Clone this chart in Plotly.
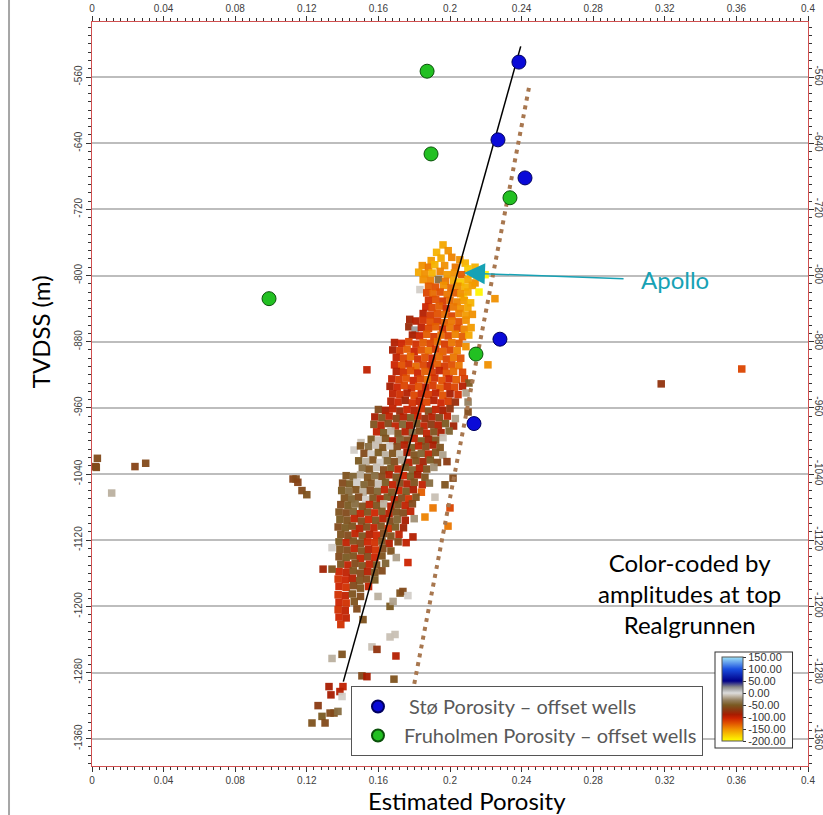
import plotly.graph_objects as go

# ---------------- data ----------------
sto_por = [0.2385, 0.2268, 0.2419, 0.2279, 0.2134]
sto_depth = [-542, -636, -682, -877, -979]
fru_por = [0.1872, 0.1894, 0.2335, 0.0989, 0.2145]
fru_depth = [-553, -653, -706, -828, -895]

trend_por = [0.2395, 0.1404]
trend_depth = [-523, -1291]
limit_por = [0.2441, 0.1721]
limit_depth = [-573, -1383]

x_ticks = [0, 0.04, 0.08, 0.12, 0.16, 0.2, 0.24, 0.28, 0.32, 0.36, 0.4]
x_labels = ["0", "0.04", "0.08", "0.12", "0.16", "0.2", "0.24", "0.28", "0.32", "0.36", "0.4"]
y_ticks = [-560, -640, -720, -800, -880, -960, -1040, -1120, -1200, -1280, -1360]
y_labels = ["-560", "-640", "-720", "-800", "-880", "-960", "-1040", "-1120", "-1200", "-1280", "-1360"]
cbar_ticks = [150, 100, 50, 0, -50, -100, -150, -200]
cbar_labels = ["150.00", "100.00", "50.00", "0.00", "-50.00", "-100.00", "-150.00", "-200.00"]

# seismic-derived porosity cloud: (porosity, TVDSS, amplitude)
cloud_cap = [
    (0.1961, -763, -160), (0.1990, -770, -150), (0.1925, -772, -165),
    (0.2010, -778, -145), (0.1950, -779, -160), (0.1895, -782, -155), (0.2055, -781, -150), (0.2085, -785, -165),
    (0.1845, -788, -150), (0.1880, -790, -140), (0.1915, -787, -165), (0.1970, -788, -150), (0.2030, -790, -140),
    (0.2100, -792, -175), (0.2140, -790, -165),
    (0.1825, -796, -160), (0.1860, -798, -150), (0.1900, -797, -165), (0.1945, -795, -145), (0.1985, -799, -155),
    (0.2025, -797, -150), (0.2065, -799, -130), (0.2115, -798, -170), (0.2150, -800, -180), (0.2196, -799, -195),
    (0.1850, -805, -150), (0.1890, -806, -145), (0.1935, -805, -40), (0.1975, -807, -140), (0.2020, -806, -160),
    (0.2060, -808, -175), (0.2100, -805, -160), (0.2140, -809, -150),
    (0.1880, -813, -130), (0.1920, -814, -125), (0.1965, -812, -150), (0.2005, -815, -135), (0.2045, -813, -150),
    (0.2085, -814, -165), (0.2125, -812, -155), (0.2162, -820, -195), (0.1832, -817, -5), (0.2073, -826, -195),
    (0.2251, -828, -150),
]
cloud_upper = [
    (0.1870, -821, -120), (0.1905, -822, -135), (0.1945, -820, -125), (0.1985, -823, -140), (0.2025, -821, -130),
    (0.2060, -822, -150), (0.2100, -820, -160),
    (0.1880, -830, -110), (0.1920, -829, -125), (0.1960, -831, -115), (0.2000, -830, -135), (0.2040, -832, -145),
    (0.2080, -830, -155), (0.2115, -833, -165),
    (0.1865, -838, -105), (0.1900, -839, -120), (0.1940, -837, -130), (0.1980, -840, -110), (0.2020, -838, -140),
    (0.2060, -840, -150), (0.2100, -839, -160),
    (0.1850, -846, -95), (0.1890, -848, -115), (0.1930, -846, -125), (0.1970, -847, -135), (0.2010, -849, -120),
    (0.2050, -846, -145), (0.2090, -848, -155), (0.2125, -847, -150),
    (0.1775, -853, -85), (0.1810, -855, -95), (0.1850, -854, -110), (0.1890, -856, -125), (0.1930, -855, -115),
    (0.1970, -857, -130), (0.2010, -855, -140), (0.2050, -856, -125), (0.2090, -854, -150),
    (0.1770, -862, -80), (0.1805, -866, 20), (0.1840, -863, -100), (0.1880, -864, -120), (0.1920, -862, -130),
    (0.1960, -865, -110), (0.2000, -863, -140), (0.2040, -864, -120), (0.2080, -865, -145), (0.2118, -863, -155),
    (0.1790, -872, -90), (0.1830, -873, -105), (0.1870, -871, -130), (0.1910, -874, -115), (0.1950, -872, -135),
    (0.1990, -873, -120), (0.2030, -871, -145), (0.2070, -874, -130), (0.2105, -872, -160),
]
cloud_middle = [
    (0.1690, -881, -95), (0.1730, -882, -105), (0.1770, -880, -120), (0.1810, -883, -110), (0.1850, -881, -130),
    (0.1890, -882, -120), (0.1930, -880, -135), (0.1970, -883, -115), (0.2010, -881, -140), (0.2050, -882, -130),
    (0.2089, -886, -150),
    (0.1680, -890, -90), (0.1720, -891, -115), (0.1760, -889, -130), (0.1800, -892, -105), (0.1840, -890, -125),
    (0.1880, -891, -140), (0.1920, -889, -115), (0.1960, -892, -130), (0.2000, -890, -120), (0.2040, -891, -145),
    (0.1700, -899, -100), (0.1740, -900, -120), (0.1780, -898, -135), (0.1820, -901, -110), (0.1860, -899, -125),
    (0.1900, -900, -105), (0.1940, -898, -135), (0.1980, -901, -120), (0.2020, -899, -140), (0.2060, -900, -125),
    (0.1690, -908, -105), (0.1730, -909, -125), (0.1770, -907, -110), (0.1810, -910, -135), (0.1850, -908, -120),
    (0.1890, -909, -100), (0.1930, -907, -130), (0.1970, -910, -115), (0.2010, -908, -125), (0.2050, -909, -140),
    (0.2212, -908, -150),
    (0.1700, -916, -95), (0.1740, -917, -110), (0.1780, -915, -125), (0.1820, -918, -105), (0.1860, -916, -130),
    (0.1900, -917, -115), (0.1940, -915, -100), (0.1980, -918, -125), (0.2020, -916, -135), (0.2070, -917, -120),
    (0.1536, -914, -100),
    (0.1675, -925, -100), (0.1715, -926, -115), (0.1755, -924, -125), (0.1795, -927, -105), (0.1835, -925, -120),
    (0.1875, -926, -135), (0.1915, -924, -110), (0.1955, -927, -125), (0.1995, -925, -105), (0.2035, -926, -130),
    (0.2080, -925, -115), (0.2106, -930, -50),
    (0.1665, -934, -90), (0.1705, -935, -105), (0.1745, -933, -120), (0.1785, -936, -110), (0.1825, -934, -125),
    (0.1865, -935, -100), (0.1905, -933, -115), (0.1945, -936, -130), (0.1985, -934, -110), (0.2025, -935, -120),
    (0.2070, -934, -95),
    (0.1680, -943, -100), (0.1720, -944, -110), (0.1760, -942, -95), (0.1800, -945, -120), (0.1840, -943, -105),
    (0.1880, -944, -115), (0.1920, -942, -100), (0.1960, -945, -125), (0.2000, -943, -90), (0.2045, -944, -110),
    (0.2090, -942, -20), (0.2101, -953, -30),
    (0.1670, -952, -95), (0.1710, -953, -105), (0.1750, -951, -85), (0.1790, -954, -110), (0.1830, -952, -100),
    (0.1870, -953, -120), (0.1910, -951, -95), (0.1950, -954, -105), (0.1990, -952, -115), (0.2030, -953, -80),
]
cloud_lower = [
    (0.1600, -962, -60), (0.1640, -963, -90), (0.1680, -961, -100), (0.1720, -964, -80), (0.1760, -962, -105),
    (0.1800, -963, -95), (0.1840, -961, -110), (0.1880, -964, -60), (0.1920, -962, -100), (0.1960, -963, -90),
    (0.2000, -961, -75), (0.2101, -965, -60),
    (0.1580, -971, -90), (0.1620, -972, -55), (0.1660, -970, -100), (0.1700, -973, -65), (0.1740, -971, -95),
    (0.1780, -972, -50), (0.1820, -970, -105), (0.1860, -973, -80), (0.1900, -971, -95), (0.1940, -972, -60),
    (0.1985, -970, -100), (0.2030, -973, -20),
    (0.1575, -980, -55), (0.1615, -981, -95), (0.1655, -979, -60), (0.1695, -982, -100), (0.1735, -980, -45),
    (0.1775, -981, -90), (0.1815, -979, -55), (0.1855, -982, -100), (0.1895, -980, -70), (0.1935, -981, -95),
    (0.1975, -979, -50), (0.2020, -982, -85),
    (0.1590, -989, -100), (0.1630, -990, -50), (0.1670, -988, -15), (0.1710, -991, -55), (0.1750, -989, -95),
    (0.1790, -990, -40), (0.1830, -988, -60), (0.1870, -991, -100), (0.1910, -989, -55), (0.1950, -990, -90),
    (0.1995, -988, -45), (0.1961, -996, -10),
    (0.1560, -998, -50), (0.1600, -999, -10), (0.1640, -997, -55), (0.1680, -1000, -90), (0.1720, -998, -45),
    (0.1760, -999, -60), (0.1800, -997, -100), (0.1840, -1000, -50), (0.1880, -998, -85), (0.1920, -999, -55),
    (0.1503, -1002, -10), (0.1464, -1011, -5),
    (0.1500, -1006, -55), (0.1545, -1007, -40), (0.1585, -1005, -10), (0.1625, -1008, -55), (0.1665, -1006, -5),
    (0.1705, -1007, -60), (0.1745, -1005, -95), (0.1785, -1008, -50), (0.1825, -1006, -100), (0.1865, -1007, -60),
    (0.1905, -1005, -90), (0.1945, -1008, -55),
    (0.1520, -1015, -60), (0.1560, -1016, -5), (0.1600, -1014, -50), (0.1640, -1017, -15), (0.1680, -1015, -55),
    (0.1720, -1016, -10), (0.1760, -1014, -90), (0.1800, -1017, -55), (0.1840, -1015, -45), (0.1880, -1016, -100),
    (0.1920, -1014, -55), (0.1960, -1017, -20),
    (0.1490, -1024, -50), (0.1530, -1025, -15), (0.1570, -1023, -55), (0.1610, -1026, -5), (0.1650, -1024, -45),
    (0.1690, -1025, -60), (0.1730, -1023, -20), (0.1770, -1026, -95), (0.1810, -1024, -55), (0.1850, -1025, -85),
    (0.1890, -1023, -50), (0.1930, -1026, -60), (0.1983, -1025, -70),
    (0.1510, -1033, -40), (0.1550, -1034, -55), (0.1590, -1032, -10), (0.1630, -1035, -60), (0.1670, -1033, -50),
    (0.1710, -1034, -100), (0.1750, -1032, -55), (0.1790, -1035, -45), (0.1830, -1033, -95), (0.1870, -1034, -55),
    (0.1910, -1032, -25),
]
cloud_base = [
    (0.1420, -1042, -55), (0.1460, -1043, -45), (0.1500, -1041, -15), (0.1540, -1044, -55), (0.1580, -1042, -40),
    (0.1620, -1043, -60), (0.1660, -1041, -95), (0.1700, -1044, -55), (0.1740, -1042, -105), (0.1780, -1043, -50),
    (0.1820, -1041, -90), (0.1860, -1044, -55), (0.2017, -1045, -60),
    (0.1400, -1051, -60), (0.1440, -1052, -50), (0.1480, -1050, -5), (0.1520, -1053, -45), (0.1560, -1051, -55),
    (0.1600, -1052, -10), (0.1640, -1050, -50), (0.1680, -1053, -100), (0.1720, -1051, -60), (0.1760, -1052, -95),
    (0.1800, -1050, -55), (0.1845, -1053, -100), (0.1885, -1051, -40), (0.1972, -1053, -55),
    (0.1395, -1060, -50), (0.1435, -1061, -40), (0.1475, -1059, -55), (0.1515, -1062, -15), (0.1555, -1060, -60),
    (0.1595, -1061, -45), (0.1635, -1059, -100), (0.1675, -1062, -55), (0.1715, -1060, -105), (0.1755, -1061, -50),
    (0.1795, -1059, -90), (0.1840, -1062, -130), (0.1916, -1068, -10),
    (0.1410, -1069, -55), (0.1450, -1070, -45), (0.1490, -1068, -60), (0.1530, -1071, -5), (0.1570, -1069, -55),
    (0.1610, -1070, -95), (0.1650, -1068, -50), (0.1690, -1071, -100), (0.1730, -1069, -60), (0.1770, -1070, -110),
    (0.1810, -1068, -55),
    (0.1390, -1077, -60), (0.1430, -1078, -50), (0.1470, -1076, -40), (0.1510, -1079, -55), (0.1550, -1077, -100),
    (0.1590, -1078, -55), (0.1630, -1076, -15), (0.1670, -1079, -95), (0.1710, -1077, -55), (0.1750, -1078, -100),
    (0.1790, -1076, -60), (0.1905, -1081, -140), (0.2000, -1081, -120),
    (0.1380, -1086, -55), (0.1420, -1087, -60), (0.1460, -1085, -45), (0.1500, -1088, -100), (0.1540, -1086, -55),
    (0.1580, -1087, -105), (0.1620, -1085, -50), (0.1660, -1088, -95), (0.1700, -1086, -55), (0.1740, -1087, -60),
    (0.1780, -1085, -100), (0.1860, -1092, -145),
    (0.1385, -1095, -50), (0.1425, -1096, -55), (0.1465, -1094, -100), (0.1505, -1097, -60), (0.1545, -1095, -105),
    (0.1585, -1096, -55), (0.1625, -1094, -95), (0.1665, -1097, -60), (0.1705, -1095, -45), (0.1750, -1096, -90),
    (0.1800, -1094, -25), (0.1989, -1103, -140),
    (0.1375, -1104, -60), (0.1415, -1105, -50), (0.1455, -1103, -55), (0.1495, -1106, -95), (0.1535, -1104, -60),
    (0.1575, -1105, -100), (0.1615, -1103, -55), (0.1655, -1106, -110), (0.1695, -1104, -50), (0.1740, -1105, -85),
    (0.1390, -1113, -55), (0.1430, -1114, -60), (0.1470, -1112, -100), (0.1510, -1115, -55), (0.1550, -1113, -95),
    (0.1590, -1114, -105), (0.1630, -1112, -60), (0.1670, -1115, -55), (0.1715, -1113, -100), (0.1793, -1116, -95),
    (0.1380, -1122, -50), (0.1420, -1123, -100), (0.1460, -1121, -55), (0.1500, -1124, -60), (0.1540, -1122, -105),
    (0.1580, -1123, -110), (0.1620, -1121, -55), (0.1660, -1124, -95), (0.1710, -1122, -60), (0.1755, -1123, -100),
    (0.1385, -1131, -55), (0.1425, -1132, -60), (0.1465, -1130, -100), (0.1505, -1133, -55), (0.1545, -1131, -95),
    (0.1585, -1132, -110), (0.1625, -1130, -60), (0.1670, -1133, -55),
    (0.1380, -1140, -60), (0.1420, -1141, -50), (0.1460, -1139, -55), (0.1500, -1142, -100), (0.1540, -1140, -60),
    (0.1580, -1141, -105), (0.1620, -1139, -55), (0.1700, -1141, -20), (0.1765, -1147, -105),
    (0.1390, -1149, -55), (0.1430, -1150, -100), (0.1470, -1148, -60), (0.1510, -1151, -55), (0.1550, -1149, -100),
    (0.1590, -1150, -55), (0.1640, -1148, -45),
    (0.1380, -1158, -105), (0.1420, -1159, -100), (0.1460, -1157, -55), (0.1500, -1160, -60), (0.1540, -1158, -95),
    (0.1580, -1159, -55), (0.1620, -1157, -60),
    (0.1375, -1167, -110), (0.1415, -1168, -105), (0.1455, -1166, -95), (0.1495, -1169, -55), (0.1535, -1167, -60),
    (0.1580, -1168, -50),
    (0.1380, -1176, -105), (0.1420, -1177, -110), (0.1460, -1175, -60), (0.1500, -1178, -55), (0.1545, -1176, -100),
    (0.1375, -1186, -110), (0.1415, -1187, -100), (0.1455, -1185, -55), (0.1500, -1188, -60),
    (0.1380, -1195, -105), (0.1420, -1196, -110), (0.1465, -1194, -55),
    (0.1375, -1204, -110), (0.1415, -1205, -100), (0.1480, -1203, -60),
    (0.1380, -1213, -105), (0.1420, -1214, -100),
    (0.1390, -1222, -110),
]
cloud_sparse = [
    (0.1721, -1184, -55), (0.1737, -1182, -60), (0.1765, -1187, -5), (0.1665, -1200, -50), (0.1682, -1194, -20),
    (0.1514, -1216, -55), (0.1598, -1188, -15),
    (0.1341, -1129, -5), (0.1291, -1155, -85), (0.1341, -1155, -55), (0.1173, -1060, -60), (0.1123, -1046, -65),
    (0.1341, -1263, -15), (0.1397, -1258, -55), (0.1564, -1249, -10), (0.1592, -1252, -75), (0.1665, -1237, -10),
    (0.1693, -1234, -10), (0.1698, -1260, -95), (0.1508, -1284, -60), (0.1536, -1285, -90), (0.1687, -1288, -55),
    (0.1324, -1297, -90), (0.1402, -1297, -100), (0.1385, -1303, -95), (0.1335, -1307, -90), (0.1397, -1309, -5),
    (0.1263, -1320, -70), (0.1352, -1329, -55), (0.1330, -1329, -60), (0.1374, -1327, -40), (0.1285, -1333, -50),
    (0.1229, -1341, -55), (0.1302, -1341, -60),
    (0.1140, -1046, -60), (0.1150, -1050, -65), (0.1200, -1065, -55),
    (0.0030, -1021, -60), (0.0020, -1031, -65), (0.0024, -1032, -60), (0.0240, -1031, -65), (0.0300, -1027, -60),
    (0.0110, -1063, -15),
    (0.3180, -931, -75), (0.3630, -913, -120),
]

cloud_all = cloud_cap + cloud_upper + cloud_middle + cloud_lower + cloud_base + cloud_sparse
cloud_por = [p[0] for p in cloud_all]
cloud_depth = [p[1] for p in cloud_all]
cloud_amp = [p[2] for p in cloud_all]

amp_scale = [
    [0.0, "#ffff00"], [0.0714, "#f8c800"], [0.1429, "#f09000"], [0.2143, "#e05000"],
    [0.2714, "#cc2400"], [0.3143, "#a81c00"], [0.3714, "#8a3a12"], [0.4286, "#7a5a22"],
    [0.4857, "#948060"], [0.5429, "#c8c0b4"], [0.5714, "#dcdcdc"], [0.6429, "#8a8a8a"],
    [0.7143, "#000088"], [0.8571, "#1a4fe0"], [1.0, "#a0e4f8"],
]

TICKFONT = dict(family="Liberation Sans, Arial", size=10, color="#404040")
AXLINE = "#d05050"
TEXTFONT = "Lato, Calibri, sans-serif"

fig = go.Figure()
fig.add_trace(go.Scatter(
    x=cloud_por, y=cloud_depth, mode="markers", showlegend=False, hoverinfo="skip",
    marker=dict(symbol="square", size=7.5, color=cloud_amp, cmin=-200, cmax=150,
                colorscale=amp_scale, line=dict(width=0), opacity=0.95,
                colorbar=dict(x=0.8715, xanchor="left", y=0.1532, yanchor="top",
                              lenmode="pixels", len=94, thicknessmode="pixels", thickness=21,
                              xpad=6, ypad=5, tickmode="array", tickvals=cbar_ticks,
                              ticktext=cbar_labels, ticks="outside", ticklen=3, tickcolor="#333",
                              tickfont=dict(family="Liberation Sans, Arial", size=11, color="#333"),
                              outlinecolor="#555", outlinewidth=1, bgcolor="white",
                              bordercolor="#333", borderwidth=1)),
))
fig.add_trace(go.Scatter(x=trend_por, y=trend_depth, mode="lines", showlegend=False,
                         line=dict(color="black", width=1.5)))
fig.add_trace(go.Scatter(x=limit_por, y=limit_depth, mode="lines", showlegend=False,
                         line=dict(color="#a8774f", width=4, dash="4px,5px")))
fig.add_trace(go.Scatter(x=sto_por, y=sto_depth, mode="markers", name="\u00a0Stø Porosity – offset wells",
                         marker=dict(size=14, color="#0a0ad8", line=dict(color="#000060", width=1))))
fig.add_trace(go.Scatter(x=fru_por, y=fru_depth, mode="markers", name="Fruholmen Porosity – offset wells",
                         marker=dict(size=14, color="#22c022", line=dict(color="#0a500a", width=1))))
fig.add_trace(go.Scatter(x=[], y=[], xaxis="x2", yaxis="y2", showlegend=False))

xcommon = dict(range=[0, 0.4], tickmode="array", tickvals=x_ticks, ticktext=x_labels,
               showline=True, linecolor=AXLINE, linewidth=1, ticks="outside", ticklen=5,
               tickcolor="#333", showgrid=False, zeroline=False, tickfont=TICKFONT, automargin=False,
               minor=dict(tickmode="linear", tick0=0, dtick=0.004, ticklen=3, tickcolor="#333",
                          ticks="outside", showgrid=False))
ycommon = dict(range=[-1393, -493.5], tickmode="array", tickvals=y_ticks, ticktext=y_labels,
               showline=True, linecolor=AXLINE, linewidth=1, ticks="outside", ticklen=5,
               tickcolor="#333", zeroline=False, tickfont=TICKFONT, automargin=False,
               minor=dict(tickmode="linear", tick0=-560, dtick=10, ticklen=3, tickcolor="#333",
                          ticks="outside", showgrid=False))

fig.update_layout(
    width=823, height=815, margin=dict(l=92, r=15, t=22, b=49, autoexpand=False),
    plot_bgcolor="white", paper_bgcolor="white",
    xaxis=dict(**xcommon, side="bottom", anchor="y"),
    xaxis2=dict(**xcommon, side="top", overlaying="x", anchor="y"),
    yaxis=dict(**ycommon, side="left", tickangle=-90, showgrid=True, gridcolor="#bdbdbd",
               gridwidth=1.5, anchor="x"),
    yaxis2=dict(**ycommon, side="right", tickangle=90, showgrid=False, overlaying="y", anchor="x",
                ticklabelstandoff=-3),
    legend=dict(x=0.3617, y=0.1075, xanchor="left", yanchor="top", bgcolor="white",
                bordercolor="#555", borderwidth=1, itemsizing="constant", tracegroupgap=0,
                itemwidth=42, font=dict(family=TEXTFONT, size=20, color="#595959")),
    annotations=[
        dict(x=0.2078, y=-797, ax=0.2978, ay=-804, xref="x", yref="y", axref="x", ayref="y",
             text="", showarrow=True, arrowhead=2, arrowsize=2.8, arrowwidth=1.5,
             arrowcolor="#17a2b5", standoff=0),
        dict(x=0.3257, y=-805, xref="x", yref="y", text="Apollo", showarrow=False,
             xanchor="center", yanchor="middle",
             font=dict(family=TEXTFONT, size=24, color="#17a2b5")),
        dict(x=0.835, y=0.2325, xref="paper", yref="paper", showarrow=False, align="center",
             xanchor="center", yanchor="middle",
             text="Color-coded by<br>amplitudes at top<br>Realgrunnen",
             font=dict(family=TEXTFONT, size=24, color="black")),
        dict(x=-0.0726, y=0.583, xref="paper", yref="paper", showarrow=False, textangle=-90,
             xanchor="center", yanchor="middle",
             text="TVDSS (m)", font=dict(family=TEXTFONT, size=24, color="black")),
        dict(x=0.5237, y=-0.047, xref="paper", yref="paper", showarrow=False,
             xanchor="center", yanchor="middle",
             text="Estimated Porosity", font=dict(family=TEXTFONT, size=24, color="black")),
    ],
    shapes=[dict(type="line", xref="paper", yref="paper", x0=-0.1159, x1=-0.1159, y0=-0.07, y1=1.04,
                 line=dict(color="#a6a6a6", width=2))],
)

# remove the page's default body margin so the figure sits at the window origin
fig.write_html("out.html", config={"displayModeBar": False},
               post_script="document.body.style.margin='0';")
